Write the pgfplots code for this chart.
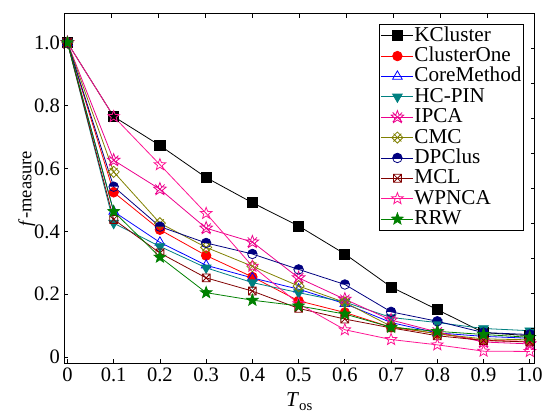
\documentclass[border=0pt]{standalone}
\usepackage{fontspec}
\setmainfont{Liberation Serif}
\usepackage{pgfplots}
\pgfplotsset{compat=1.18}
\usetikzlibrary{plotmarks}

\definecolor{cteal}{RGB}{0,128,128}
\definecolor{colive}{RGB}{128,128,0}
\definecolor{cnavy}{RGB}{0,0,128}
\definecolor{cmaroon}{RGB}{128,0,0}
\definecolor{cpink}{RGB}{255,20,147}
\definecolor{cgreen}{RGB}{0,128,0}

% five-point star path
\def\starpath{%
  \pgfpathmoveto{\pgfpointpolar{90}{\pgfplotmarksize}}%
  \pgfpathlineto{\pgfpointpolar{126}{0.42\pgfplotmarksize}}%
  \pgfpathlineto{\pgfpointpolar{162}{\pgfplotmarksize}}%
  \pgfpathlineto{\pgfpointpolar{198}{0.42\pgfplotmarksize}}%
  \pgfpathlineto{\pgfpointpolar{234}{\pgfplotmarksize}}%
  \pgfpathlineto{\pgfpointpolar{270}{0.42\pgfplotmarksize}}%
  \pgfpathlineto{\pgfpointpolar{306}{\pgfplotmarksize}}%
  \pgfpathlineto{\pgfpointpolar{342}{0.42\pgfplotmarksize}}%
  \pgfpathlineto{\pgfpointpolar{18}{\pgfplotmarksize}}%
  \pgfpathlineto{\pgfpointpolar{54}{0.42\pgfplotmarksize}}%
  \pgfpathclose}
\def\xpath#1{%
  \pgfpathmoveto{\pgfpointpolar{45}{#1}}\pgfpathlineto{\pgfpointpolar{225}{#1}}%
  \pgfpathmoveto{\pgfpointpolar{135}{#1}}\pgfpathlineto{\pgfpointpolar{315}{#1}}}
\pgfdeclareplotmark{pstar}{\starpath\pgfusepathqstroke}
\pgfdeclareplotmark{pstar*}{\starpath\pgfusepathqfillstroke}
\pgfdeclareplotmark{xstar}{\starpath\xpath{\pgfplotmarksize}\pgfusepathqstroke}
\pgfdeclareplotmark{xdia}{%
  \pgfpathmoveto{\pgfpoint{0pt}{\pgfplotmarksize}}%
  \pgfpathlineto{\pgfpoint{\pgfplotmarksize}{0pt}}%
  \pgfpathlineto{\pgfpoint{0pt}{-\pgfplotmarksize}}%
  \pgfpathlineto{\pgfpoint{-\pgfplotmarksize}{0pt}}%
  \pgfpathclose
  \xpath{\pgfplotmarksize}\pgfusepathqstroke}
\pgfdeclareplotmark{xsq}{%
  \pgfpathrectangle{\pgfpoint{-0.75\pgfplotmarksize}{-0.75\pgfplotmarksize}}{\pgfpoint{1.5\pgfplotmarksize}{1.5\pgfplotmarksize}}%
  \xpath{1.06\pgfplotmarksize}\pgfusepathqstroke}
\pgfdeclareplotmark{hcirc}{%
  \pgfpathmoveto{\pgfpoint{\pgfplotmarksize}{0pt}}%
  \pgfpatharc{0}{180}{\pgfplotmarksize}%
  \pgfpathclose\pgfusepathqfill
  \pgfpathcircle{\pgfpointorigin}{\pgfplotmarksize}\pgfusepathqstroke}

\begin{document}
\begin{tikzpicture}
\begin{axis}[
  scale only axis,
  width=355.5pt, height=264pt,
  xmin=-0.0064, xmax=1.0107, ymin=-0.019, ymax=1.0915,
  xtick={0,0.1,0.2,0.3,0.4,0.5,0.6,0.7,0.8,0.9,1.0},
  xticklabels={0,0.1,0.2,0.3,0.4,0.5,0.6,0.7,0.8,0.9,1.0},
  ytick={0,0.2,0.4,0.6,0.8,1.0},
  yticklabels={0,0.2,0.4,0.6,0.8,1.0},
  xtick pos=left, ytick pos=left,
  tick align=inside, major tick length=3pt,
  axis line style={line width=0.8pt},
  tick style={black, line width=0.6pt},
  tick label style={font=\fontsize{15.5}{18}\selectfont},
  /pgf/number format/assume math mode=true,
  xlabel={\textit{T}\textsubscript{os}},
  ylabel={\textit{f}-measure},
  xlabel style={font=\fontsize{16}{19}\selectfont, at={(axis description cs:0.5,0)}, anchor=north, yshift=-19pt},
  ylabel style={font=\fontsize{14}{17}\selectfont, at={(axis description cs:0,0.5)}, anchor=center, yshift=28.5pt},
  every axis plot/.append style={line width=0.6pt},
  legend cell align=left,
  legend style={at={(axis description cs:1,1)}, anchor=north east,
    xshift=-8.25pt, yshift=-7.5pt, draw=black, line width=0.6pt,
    font=\fontsize{16}{18}\selectfont, row sep=0pt, inner sep=1pt,
    nodes={inner xsep=0.5pt, inner ysep=0.35pt, text height=11.5pt, text depth=3.2pt}},
  legend image code/.code={\draw[mark repeat=2,mark phase=2] plot coordinates {(0cm,0cm)(0.425cm,0cm)(0.85cm,0cm)};},
]
\addplot[black, mark=square*, mark size=3.8pt] coordinates {
(0,1.0) (0.1,0.765) (0.2,0.673) (0.3,0.571) (0.4,0.491) (0.5,0.417) (0.6,0.328) (0.7,0.223) (0.8,0.151) (0.9,0.078) (1.0,0.068)};
\addlegendentry{KCluster}
\addplot[red, mark=*, mark size=3.6pt] coordinates {
(0,1.0) (0.1,0.524) (0.2,0.405) (0.3,0.323) (0.4,0.255) (0.5,0.179) (0.6,0.142) (0.7,0.095) (0.8,0.075) (0.9,0.053) (1.0,0.050)};
\addlegendentry{ClusterOne}
\addplot[blue, mark=triangle, mark size=4.2pt] coordinates {
(0,1.0) (0.1,0.463) (0.2,0.365) (0.3,0.292) (0.4,0.252) (0.5,0.216) (0.6,0.170) (0.7,0.110) (0.8,0.077) (0.9,0.066) (1.0,0.060)};
\addlegendentry{CoreMethod}
\addplot[cteal, mark=triangle*, mark size=4.2pt, mark options={rotate=180}] coordinates {
(0,1.0) (0.1,0.426) (0.2,0.352) (0.3,0.284) (0.4,0.237) (0.5,0.205) (0.6,0.175) (0.7,0.126) (0.8,0.110) (0.9,0.091) (1.0,0.084)};
\addlegendentry{HC-PIN}
\addplot[magenta, mark=xstar, mark size=5pt] coordinates {
(0,1.0) (0.1,0.626) (0.2,0.534) (0.3,0.410) (0.4,0.366) (0.5,0.252) (0.6,0.184) (0.7,0.118) (0.8,0.080) (0.9,0.048) (1.0,0.042)};
\addlegendentry{IPCA}
\addplot[colive, mark=xdia, mark size=4.2pt] coordinates {
(0,1.0) (0.1,0.589) (0.2,0.426) (0.3,0.349) (0.4,0.289) (0.5,0.226) (0.6,0.174) (0.7,0.098) (0.8,0.074) (0.9,0.058) (1.0,0.055)};
\addlegendentry{CMC}
\addplot[cnavy, mark=hcirc, mark size=3.6pt] coordinates {
(0,1.0) (0.1,0.542) (0.2,0.415) (0.3,0.363) (0.4,0.328) (0.5,0.279) (0.6,0.231) (0.7,0.144) (0.8,0.114) (0.9,0.078) (1.0,0.072)};
\addlegendentry{DPClus}
\addplot[cmaroon, mark=xsq, mark size=4pt] coordinates {
(0,1.0) (0.1,0.438) (0.2,0.331) (0.3,0.252) (0.4,0.210) (0.5,0.155) (0.6,0.121) (0.7,0.093) (0.8,0.068) (0.9,0.053) (1.0,0.048)};
\addlegendentry{MCL}
\addplot[cpink, mark=pstar, mark size=4.6pt] coordinates {
(0,1.0) (0.1,0.765) (0.2,0.612) (0.3,0.457) (0.4,0.289) (0.5,0.170) (0.6,0.087) (0.7,0.056) (0.8,0.039) (0.9,0.019) (1.0,0.018)};
\addlegendentry{WPNCA}
\addplot[cgreen, mark=pstar*, mark size=4.6pt] coordinates {
(0,1.0) (0.1,0.463) (0.2,0.318) (0.3,0.205) (0.4,0.181) (0.5,0.163) (0.6,0.137) (0.7,0.095) (0.8,0.082) (0.9,0.072) (1.0,0.063)};
\addlegendentry{RRW}
\end{axis}
\begin{axis}[
  scale only axis,
  width=355.5pt, height=264pt,
  xmin=0, xmax=1, ymin=0, ymax=1,
  xtick={0.1,0.2,0.3,0.4,0.5,0.6,0.7,0.8,0.9},
  ytick={0.1,0.2,0.3,0.4,0.5,0.6,0.7,0.8,0.9},
  xticklabels={}, yticklabels={},
  xtick pos=right, ytick pos=right,
  tick align=inside, major tick length=3pt,
  axis line style={line width=0.8pt},
  tick style={black, line width=0.6pt},
]
\end{axis}
\path (0,0) ++(-48.75pt,-33pt) rectangle (355.5pt,264pt) ++(6pt,10.5pt);
\end{tikzpicture}
\end{document}
